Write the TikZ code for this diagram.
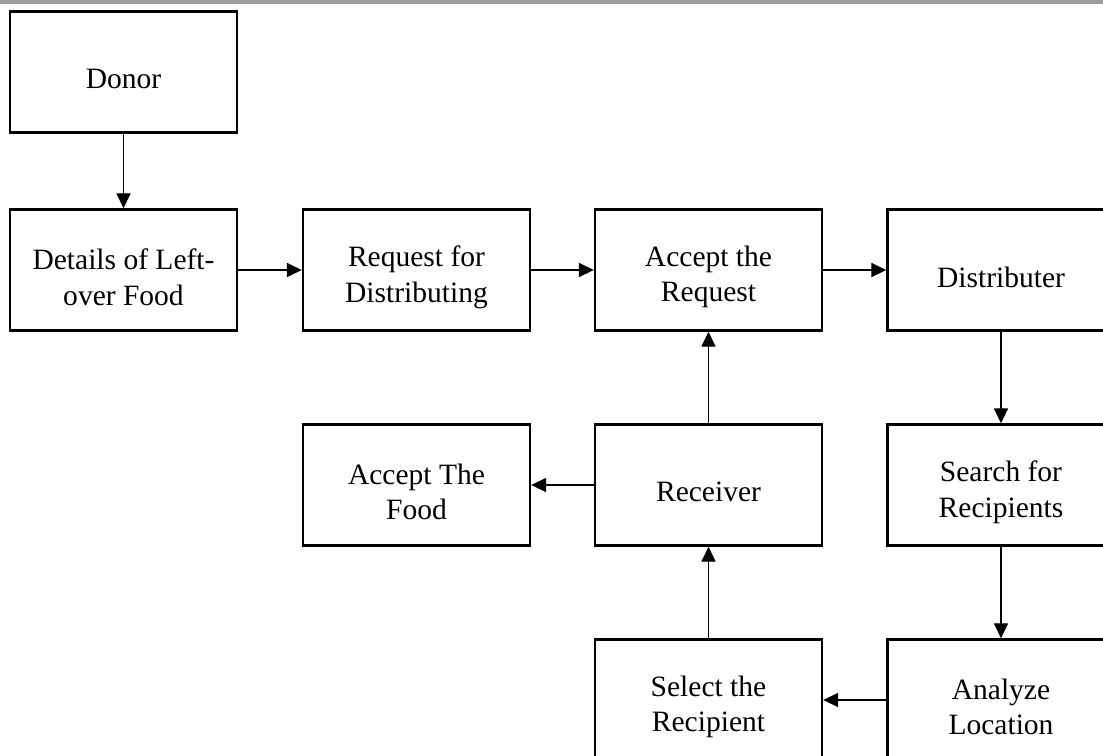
\documentclass[tikz,border=0pt]{standalone}
\usepackage{fontspec}
\setmainfont{Liberation Serif}
\usetikzlibrary{arrows.meta}
\begin{document}
\begin{tikzpicture}[x=0.02cm,y=-0.02cm,
  every node/.style={font=\fontsize{16.8}{20.3}\selectfont},
  box/.style={draw,line width=1.4pt,minimum width=4.54cm,minimum height=2.42cm,inner sep=0pt,
    label={[align=center,yshift=-4pt]center:#1}},
  arr/.style={line width=0.7pt,-{Triangle[length=8.5pt,width=8pt]}}]
\useasboundingbox (0,0) rectangle (1103,755);
\clip (0,0) rectangle (1103,755);
\fill[black!38] (0,0) rectangle (1103,4);
% top row
\node[box={Donor}] (donor) at (123.5,72) {};
\node[box={Details of Left-\\over Food}] (details) at (123.5,270) {};
\node[box={Request for\\Distributing}] (request) at (416.5,270) {};
\node[box={Accept the\\Request}] (acceptreq) at (708.5,270) {};
\node[box={Distributer}] (distributer) at (1001,270) {};
% middle row
\node[box={Accept The\\Food}] (acceptfood) at (416.5,485) {};
\node[box={Receiver}] (receiver) at (708.5,485) {};
\node[box={Search for\\Recipients}] (search) at (1001,485) {};
% bottom row
\node[box={Select the\\Recipient}] (select) at (708.5,700) {};
\node[box={Analyze\\Location}] (analyze) at (1001,700) {};
\draw[arr] (donor) -- (details);
\draw[arr] (details) -- (request);
\draw[arr] (request) -- (acceptreq);
\draw[arr] (acceptreq) -- (distributer);
\draw[arr] (distributer) -- (search);
\draw[arr] (search) -- (analyze);
\draw[arr] (analyze) -- (select);
\draw[arr] (select) -- (receiver);
\draw[arr] (receiver) -- (acceptreq);
\draw[arr] (receiver) -- (acceptfood);
\end{tikzpicture}
\end{document}
